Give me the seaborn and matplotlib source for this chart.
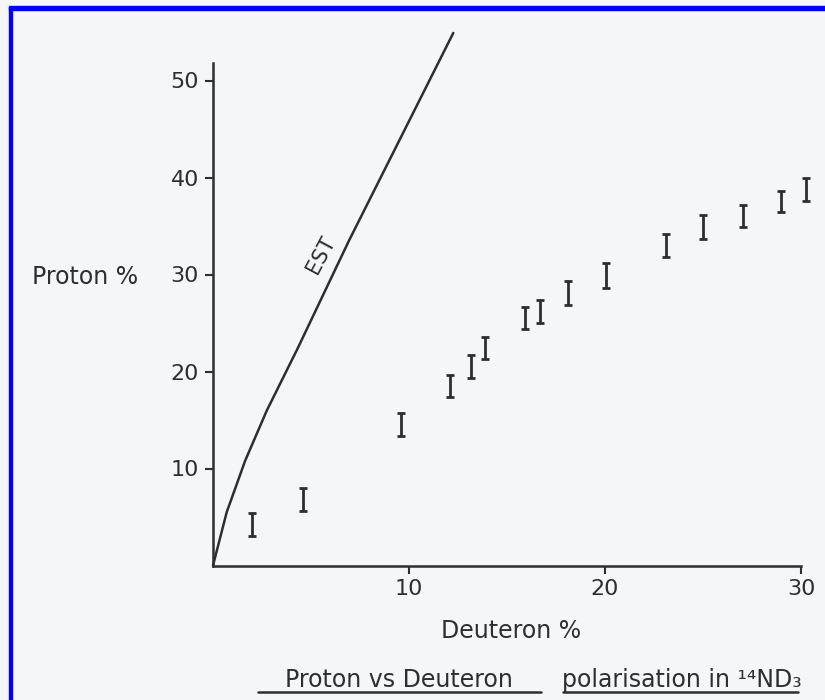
import matplotlib
matplotlib.use("Agg")
import matplotlib.pyplot as plt
import seaborn as sns
import pandas as pd
from matplotlib.patches import Rectangle
from matplotlib.lines import Line2D

# ---- data ----
est_deuteron = [0.0, 0.70, 1.64, 2.75, 4.3, 6.94, 9.5, 12.26]
est_proton = [0.0, 5.5, 10.8, 16.0, 22.3, 33.5, 43.8, 54.9]

deuteron = [1.97, 4.58, 9.59, 12.09, 13.15, 13.9, 15.92, 16.68, 18.13,
            20.04, 23.1, 25.02, 27.02, 28.98, 30.24]
proton = [4.23, 6.8, 14.5, 18.5, 20.5, 22.45, 25.5, 26.2, 28.1,
          29.9, 33.0, 34.9, 36.05, 37.5, 38.8]
proton_err = [1.15, 1.15, 1.2, 1.15, 1.15, 1.15, 1.15, 1.2, 1.2,
              1.25, 1.2, 1.2, 1.15, 1.1, 1.2]

x_ticks = [10, 20, 30]
y_ticks = [10, 20, 30, 40, 50]
x_ticklabels = ["10", "20", "30"]
y_ticklabels = ["10", "20", "30", "40", "50"]

sns.set_theme(style="white")
plt.rcParams['font.family'] = ['DejaVu Sans']

W, H = 825, 700
bg = "#f4f6f8"
ink = "#2e2e2e"
fig = plt.figure(figsize=(W / 100, H / 100), dpi=100, facecolor=bg)

# axes placement in pixels
x0_px, y0_px = 213, 565.5
px_per_x, px_per_y = 19.6, 9.7
xmax, ymax = 31.5, 57
ax = fig.add_axes([x0_px / W, (H - y0_px) / H,
                   xmax * px_per_x / W, ymax * px_per_y / H])
ax.set_facecolor(bg)
ax.patch.set_alpha(0)

est_df = pd.DataFrame({"Deuteron": est_deuteron, "Proton": est_proton})
sns.lineplot(data=est_df, x="Deuteron", y="Proton", ax=ax, color=ink,
             linewidth=1.8, sort=False, estimator=None, clip_on=False)

ax.errorbar(deuteron, proton, yerr=proton_err, fmt="none", ecolor=ink,
            elinewidth=2.0, capsize=3, capthick=2.0, clip_on=False)

ax.set_xlim(0, xmax)
ax.set_ylim(0, ymax)
for s in ["top", "right"]:
    ax.spines[s].set_visible(False)
ax.spines["left"].set_bounds(0, 51.8)
ax.spines["bottom"].set_bounds(0, 30)
for s in ["left", "bottom"]:
    ax.spines[s].set_color(ink)
    ax.spines[s].set_linewidth(1.8)

ax.set_xticks(x_ticks)
ax.set_xticklabels(x_ticklabels)
ax.set_yticks(y_ticks)
ax.set_yticklabels(y_ticklabels)
ax.tick_params(axis="both", direction="out", length=6, width=1.5,
               color=ink, labelcolor=ink, labelsize=16, pad=4,
               bottom=True, left=True)
ax.set_xlabel("")
ax.set_ylabel("")

ax.text(5.5, 32.0, "EST", rotation=62, ha="center", va="center",
        fontsize=15, color=ink)

def fx(px):
    return px / W

def fy(py):
    return 1 - py / H

fig.text(fx(85), fy(277), "Proton %", ha="center", va="center",
         fontsize=17, color=ink)
fig.text(fx(511), fy(631), "Deuteron %", ha="center", va="center",
         fontsize=17, color=ink)
fig.text(fx(399), fy(680), "Proton vs Deuteron", ha="center", va="center",
         fontsize=17, color=ink)
fig.text(fx(682), fy(680), "polarisation in ¹⁴ND₃", ha="center",
         va="center", fontsize=17, color=ink)
fig.add_artist(Line2D([fx(258), fx(541)], [fy(692), fy(692)],
                      color=ink, linewidth=1.8))
fig.add_artist(Line2D([fx(563), fx(798)], [fy(692), fy(692)],
                      color=ink, linewidth=1.8))

# blue frame (top and left edges)
fig.add_artist(Rectangle((fx(8.5), 0), 3.5 / W, fy(6.5), color="#0000ff",
                         transform=fig.transFigure, zorder=10))
fig.add_artist(Rectangle((fx(8.5), fy(10)), 1 - fx(8.5), 3.5 / H,
                         color="#0000ff", transform=fig.transFigure,
                         zorder=10))

fig.savefig("out.png", dpi=100, facecolor=bg)
